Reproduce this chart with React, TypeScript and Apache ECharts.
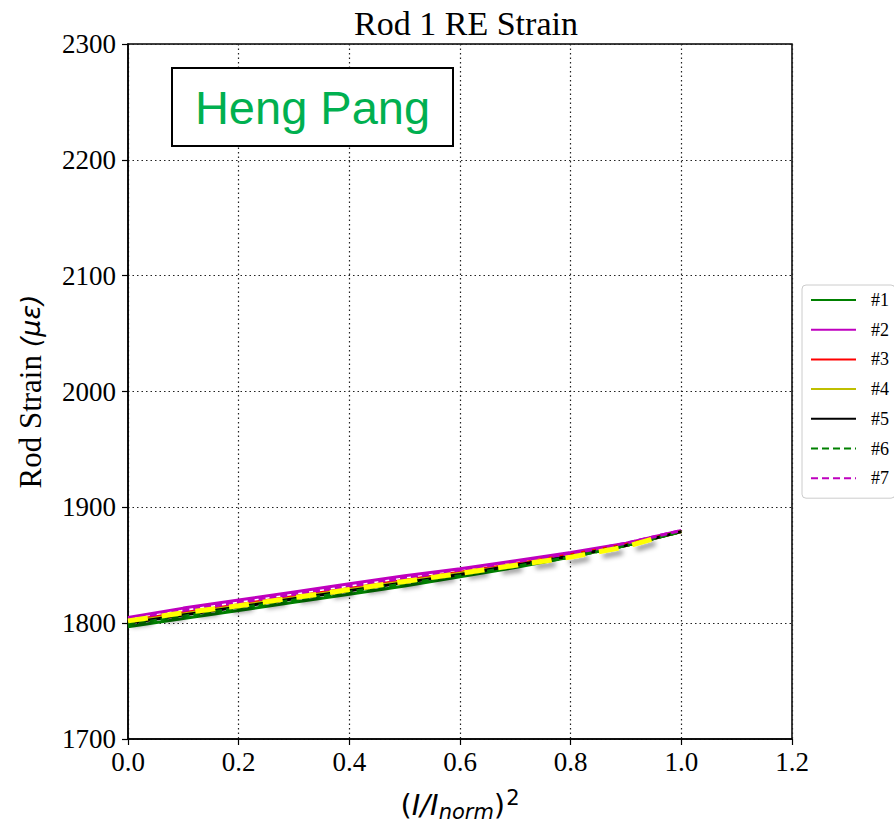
import React, { useEffect, useRef } from "react";
import * as echarts from "echarts";

const xValues = [0, 0.1, 0.2, 0.3, 0.4, 0.5, 0.6, 0.7, 0.8, 0.9, 1.0];
const s1 = [1797, 1804, 1811, 1818, 1825, 1832, 1840, 1848, 1857, 1867, 1879];
const s2 = [1805, 1813, 1820, 1827, 1834, 1841, 1847, 1854, 1861, 1869, 1880];
const s3 = [1802, 1809, 1816, 1823, 1830, 1837, 1844, 1851, 1859, 1868, 1879];
const s4 = [1801, 1808, 1815, 1822, 1829, 1836, 1843, 1850, 1858, 1867, 1879];
const s5 = [1800, 1807, 1814, 1821, 1828, 1835, 1842, 1850, 1858, 1867, 1879];
const s6 = [1799, 1806, 1813, 1820, 1827, 1834, 1841, 1849, 1857, 1867, 1879];
const s7 = [1804, 1811, 1818, 1825, 1832, 1839, 1846, 1853, 1860, 1869, 1880];
const overlayX = [0, 0.1, 0.2, 0.3, 0.4, 0.5, 0.6, 0.7, 0.8, 0.9, 0.95];
const overlayY = [1802, 1809, 1815, 1822, 1829, 1836, 1843, 1850, 1857, 1866, 1873];

const seriesNames = ["#1", "#2", "#3", "#4", "#5", "#6", "#7"];
const seriesData = [s1, s2, s3, s4, s5, s6, s7];
const seriesColors = ["#008000", "#bf00bf", "#ff0000", "#bfbf00", "#000000", "#008000", "#bf00bf"];
const seriesDash = ["solid", "solid", "solid", "solid", "solid", "dashed", "dashed"];

const xTicks = { min: 0, max: 1.2, interval: 0.2 };
const yTicks = { min: 1700, max: 2300, interval: 100 };

const TITLE = "Rod 1 RE Strain";
const WATERMARK = "Heng Pang";

export default function App() {
  const ref = useRef<HTMLDivElement>(null);
  useEffect(() => {
    if (!ref.current) return;
    const chart = echarts.init(ref.current, null, { renderer: "svg" });
    const zip = (xs: number[], ys: number[]) => xs.map((x, i) => [x, ys[i]]);
    const series: any[] = seriesNames.map((name, i) => ({
      name,
      type: "line",
      data: zip(xValues, seriesData[i]),
      symbol: "none",
      lineStyle: {
        color: seriesColors[i],
        width: 3,
        type: seriesDash[i] === "dashed" ? [7, 4] : "solid",
      },
      itemStyle: { color: seriesColors[i] },
      z: 3,
    }));
    series.push({
      name: "overlay",
      type: "line",
      data: zip(overlayX, overlayY),
      symbol: "none",
      lineStyle: {
        color: "#ffff00",
        width: 5,
        type: [20, 14],
        shadowColor: "rgba(0,0,0,0.45)",
        shadowBlur: 5,
        shadowOffsetX: 4,
        shadowOffsetY: 4,
      },
      z: 4,
      silent: true,
    });
    const axisLabelStyle = {
      fontFamily: "Liberation Serif, Times New Roman, serif",
      fontSize: 27,
      color: "#000",
    };
    chart.setOption({
      animation: false,
      backgroundColor: "#fff",
      title: {
        text: TITLE,
        left: 461,
        textAlign: "center",
        top: 1,
        textStyle: {
          fontFamily: "Liberation Serif, Times New Roman, serif",
          fontSize: 34,
          fontWeight: "normal",
          color: "#000",
        },
      },
      grid: {
        left: 128,
        width: 664,
        top: 44,
        height: 695,
        outerBoundsMode: "none",
        containLabel: false,
        show: true,
        borderColor: "#000",
        borderWidth: 1.5,
        backgroundColor: "transparent",
      },
      legend: {
        data: seriesNames,
        orient: "vertical",
        left: 802,
        top: 285,
        itemWidth: 45,
        itemHeight: 14,
        itemGap: 9.7,
        padding: [5, 6, 10, 8],
        borderColor: "#cccccc",
        borderWidth: 1,
        borderRadius: 4,
        backgroundColor: "#fff",
        itemStyle: { opacity: 0, color: "rgba(0,0,0,0)", borderWidth: 0 },
        textStyle: {
          fontFamily: "Liberation Serif, Times New Roman, serif",
          fontSize: 18,
          color: "#000",
          lineHeight: 20,
          padding: [0, 0, 0, 10],
        },
      },
      xAxis: {
        type: "value",
        min: xTicks.min,
        max: xTicks.max,
        interval: xTicks.interval,
        axisLine: { show: true, onZero: false, lineStyle: { color: "#000", width: 1.5 } },
        axisTick: { show: true, length: 6, lineStyle: { color: "#000", width: 1.2 } },
        axisLabel: {
          ...axisLabelStyle,
          margin: 9,
          formatter: (v: number) => v.toFixed(1),
        },
        splitLine: { show: true, lineStyle: { color: "#222", width: 1.2, type: [1.5, 3] } },
        name: "{p|(}{i|I/I}{sub|norm}{p|)}{sup|2}",
        nameLocation: "middle",
        nameGap: 48,
        nameTextStyle: {
          rich: {
            p: { fontFamily: "DejaVu Sans", fontSize: 29, color: "#000", lineHeight: 30 },
            i: { fontFamily: "DejaVu Sans", fontStyle: "italic", fontSize: 29, color: "#000", lineHeight: 30 },
            sub: { fontFamily: "DejaVu Sans", fontStyle: "italic", fontSize: 21, color: "#000", padding: [14, 0, 0, 0] },
            sup: { fontFamily: "DejaVu Sans", fontSize: 21, color: "#000", padding: [0, 0, 14, 1] },
          },
        },
      },
      yAxis: {
        type: "value",
        min: yTicks.min,
        max: yTicks.max,
        interval: yTicks.interval,
        axisLine: { show: true, lineStyle: { color: "#000", width: 1.5 } },
        axisTick: { show: true, length: 6, lineStyle: { color: "#000", width: 1.2 } },
        axisLabel: { ...axisLabelStyle, margin: 12, formatter: (v: number) => String(v) },
        splitLine: { show: true, lineStyle: { color: "#222", width: 1.2, type: [1.5, 3] } },
        name: "{t|Rod Strain }{m|(με)}",
        nameLocation: "middle",
        nameGap: 82,
        nameRotate: 90,
        nameTextStyle: {
          rich: {
            t: { fontFamily: "Liberation Serif, Times New Roman, serif", fontSize: 31, color: "#000" },
            m: { fontFamily: "DejaVu Sans", fontStyle: "italic", fontSize: 27, color: "#000" },
          },
        },
      },
      graphic: [
        {
          type: "rect",
          shape: { x: 172, y: 68, width: 281, height: 78 },
          style: { fill: "#fff", stroke: "#000", lineWidth: 2 },
          z: 10,
        },
        {
          type: "text",
          x: 312.5,
          y: 107,
          style: {
            text: WATERMARK,
            fontFamily: "Liberation Sans, Arial, sans-serif",
            fontSize: 47,
            fill: "#00b050",
            align: "center",
            verticalAlign: "middle",
          },
          z: 11,
        },
      ],
      series,
    });
    return () => chart.dispose();
  }, []);
  return (
    <div
      ref={ref}
      style={{ position: "fixed", left: 0, top: 0, width: 894, height: 823 }}
    />
  );
}
